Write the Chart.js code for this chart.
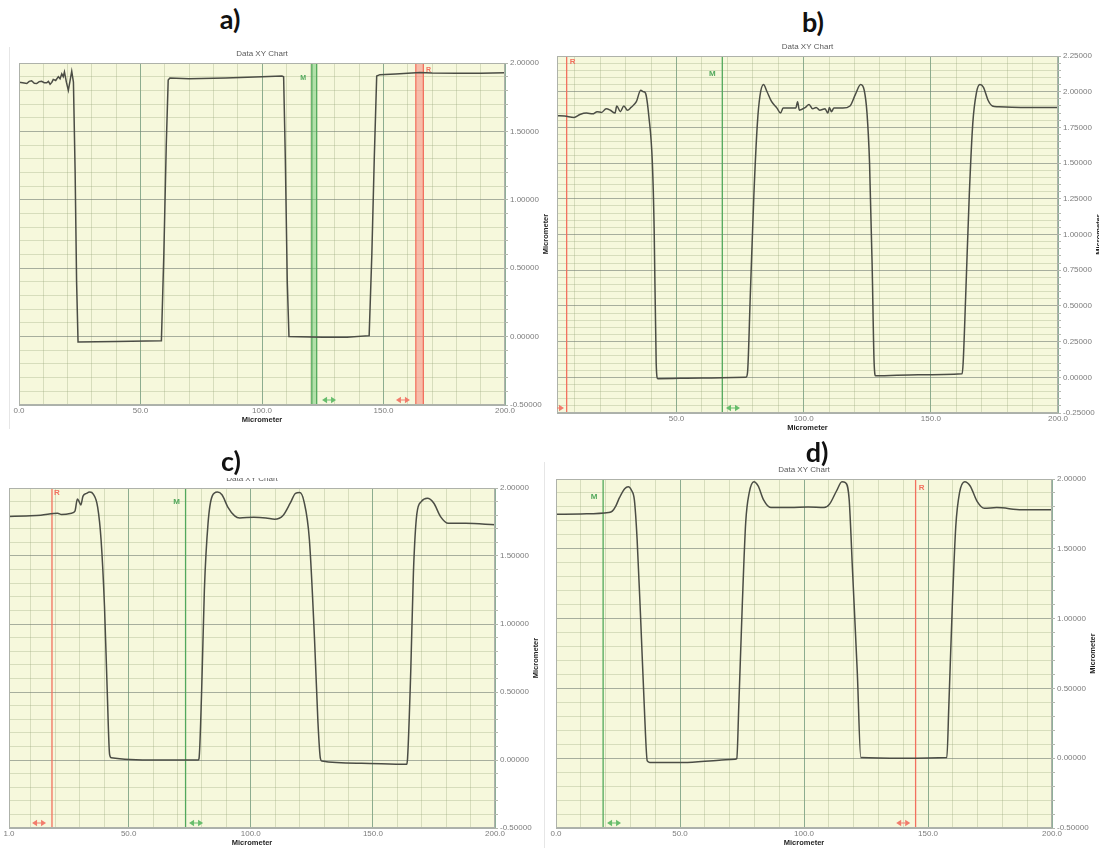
<!DOCTYPE html>
<html>
<head>
<meta charset="utf-8">
<title>Data XY Chart</title>
<script src="https://cdn.jsdelivr.net/npm/chart.js@4.4.1/dist/chart.umd.min.js"></script>
<style>
  html, body { margin: 0; padding: 0; background: #fff; }
  body { width: 1099px; height: 848px; position: relative; overflow: hidden; font-family: "Liberation Sans", Arial, sans-serif; }
  canvas { position: absolute; }
  .tag { position: absolute; font: 700 27px Lato, "Open Sans", sans-serif; color: #111; transform: translate(-50%, -50%); line-height: 1; }
  .edge { position: absolute; width: 1px; background: #e6e6e6; }
</style>
</head>
<body>
<div class="edge" style="left:9px;top:47px;height:382px"></div>
<div class="edge" style="left:544px;top:462px;height:386px"></div>

<canvas id="chartA" width="552" height="388" style="left:0;top:40px"></canvas>
<canvas id="chartB" width="554" height="397" style="left:545px;top:38px"></canvas>
<canvas id="chartC" width="545" height="378" style="left:0;top:470px"></canvas>
<canvas id="chartD" width="554" height="388" style="left:545px;top:460px"></canvas>

<div class="tag" style="left:230px;top:18px">a)</div>
<div class="tag" style="left:813px;top:21px">b)</div>
<div class="tag" style="left:231px;top:460px">c)</div>
<div class="tag" style="left:817px;top:451px">d)</div>

<script>
// labelled x ticks per panel
const aXLabels = [0, 50, 100, 150, 200];
const bXLabels = [50, 100, 150, 200];
const cXLabels = [1, 50, 100, 150, 200];
const dXLabels = [0, 50, 100, 150, 200];

// height profiles, x and height both in micrometer
const aX = [0, 1.5, 3.2, 4.2, 5.2, 6.3, 7.3, 8.3, 9.3, 10.4, 11.4, 12.1, 12.8, 13.5, 14.1, 15.1, 16.2, 16.9, 17.6, 18.2,
  18.7, 19.5, 20.3, 21.0, 21.7, 22.4, 23.1, 23.7, 24.3, 40, 58.6, 59.6, 60.6, 61.4, 62.1, 70, 85, 100, 108.2, 108.9,
  109.6, 110.4, 111.1, 125, 135, 144.1, 145.2, 146.2, 147.2, 148.5, 155, 165, 170, 180, 190, 200];
const aY = [1.86, 1.855, 1.85, 1.866, 1.87, 1.852, 1.85, 1.864, 1.866, 1.856, 1.855, 1.866, 1.845, 1.858, 1.88, 1.872, 1.9, 1.885, 1.92, 1.9,
  1.935, 1.86, 1.80, 1.87, 1.94, 1.86, 1.2, 0.4, -0.04, -0.035, -0.03, 0.6, 1.4, 1.875, 1.89, 1.885, 1.89, 1.9, 1.905, 1.9,
  1.3, 0.4, 0.0, -0.005, -0.005, 0.007, 0.6, 1.3, 1.905, 1.915, 1.92, 1.93, 1.927, 1.925, 1.925, 1.928];

const bX = [3, 6, 9.7, 12, 14.6, 17, 18.8, 20.5, 22.3, 24, 25.8, 26.5, 27.9, 29.3, 30.7, 32.1, 34.2, 35.9, 37, 37.8,
  39.1, 40.5, 41.2, 42, 42.6, 60, 77.3, 77.9, 79, 80.4, 81.8, 82.8, 84.2, 85.6, 87.4, 89.5, 90.9, 91.9, 94.4, 96.9,
  97.6, 98.3, 100.7, 102.1, 103.5, 104.9, 106.3, 108.4, 109.5, 110.1, 110.9, 111.9, 115.4, 118.2, 120.3, 122.4, 123.8, 124.9, 125.9, 126.9,
  127.7, 128.3, 145, 162.3, 162.7, 163.7, 165.1, 166.5, 167.9, 169.3, 170.7, 172.5, 174.2, 176.3, 185.4, 200];
const bY = [1.832, 1.83, 1.82, 1.84, 1.85, 1.845, 1.86, 1.855, 1.88, 1.87, 1.85, 1.90, 1.86, 1.90, 1.87, 1.89, 1.93, 2.01, 2.0, 1.99,
  1.83, 1.50, 1.04, 0.10, -0.01, -0.005, 0.0, 0.03, 0.57, 1.27, 1.78, 1.97, 2.05, 2.0, 1.93, 1.885, 1.85, 1.885, 1.885, 1.885,
  1.93, 1.87, 1.89, 1.91, 1.88, 1.89, 1.87, 1.88, 1.85, 1.89, 1.86, 1.885, 1.885, 1.9, 1.98, 2.05, 2.01, 1.85, 1.5, 0.8,
  0.1, 0.01, 0.018, 0.025, 0.10, 0.57, 1.27, 1.78, 1.99, 2.05, 2.03, 1.94, 1.90, 1.895, 1.89, 1.89];

const cX = [1, 8, 14, 20.9, 22.5, 26.6, 28, 29, 29.7, 30.4, 31.3, 32.7, 34.1, 35.5, 37.3, 38.7, 40.1, 41.2, 42.2, 42.9,
  61.4, 78.5, 78.8, 79.9, 81, 82.5, 84.2, 86.3, 88.2, 90.6, 93.4, 95.5, 101.2, 106.2, 109.8, 113.3, 116.2, 118.3, 120, 121.8,
  124, 126.1, 127.5, 128.5, 129.1, 145.3, 163.8, 164.2, 165.5, 166.6, 168, 169.8, 172.3, 174.9, 177.7, 180.9, 188, 200];
const cY = [1.79, 1.795, 1.80, 1.815, 1.805, 1.815, 1.83, 1.92, 1.90, 1.875, 1.94, 1.96, 1.97, 1.955, 1.86, 1.62, 1.13, 0.52, 0.04, 0.017,
  0.0, 0.0, 0.01, 0.52, 1.25, 1.74, 1.94, 1.97, 1.95, 1.86, 1.795, 1.78, 1.785, 1.78, 1.77, 1.80, 1.89, 1.96, 1.966, 1.90,
  1.62, 0.89, 0.28, 0.012, -0.007, -0.024, -0.032, 0.012, 0.65, 1.38, 1.81, 1.90, 1.925, 1.89, 1.79, 1.74, 1.74, 1.73];

const dX = [0, 10, 21.2, 22.7, 24.1, 25.6, 27.7, 29.1, 30.6, 31.6, 32.7, 34.2, 35.6, 36.8, 37.8, 51.4, 65.8, 72.2, 72.9, 73.7,
  75.1, 76.5, 77.9, 79.8, 81.5, 83.7, 86.6, 94.5, 101.7, 108.1, 110.3, 113.1, 115.3, 116.7, 118.2, 119.6, 121.5, 122.9, 140, 157.6,
  158.4, 159.8, 161.2, 162.7, 164.8, 167, 169.8, 172.7, 177.7, 187.8, 200];
const dY = [1.747, 1.75, 1.76, 1.77, 1.806, 1.866, 1.93, 1.945, 1.914, 1.85, 1.57, 0.97, 0.37, -0.02, -0.03, -0.031, -0.014, -0.007, -0.002, 0.37,
  1.09, 1.69, 1.90, 1.98, 1.95, 1.85, 1.795, 1.795, 1.80, 1.795, 1.82, 1.914, 1.98, 1.974, 1.855, 1.33, 0.61, 0.005, 0.0, 0.005,
  0.375, 1.09, 1.66, 1.90, 1.98, 1.95, 1.84, 1.79, 1.795, 1.78, 1.78];

// measurement cursors (M / R) and their drag handles
const aCursorTag = ["M", "R"];
const aCursorLo = [120.5, 163.3];
const aCursorHi = [122.5, 166.4];
const aHandleX = [127.6, 158];

const bCursorTag = ["R", "M"];
const bCursorX = [6.8, 68];
const bHandleX = [3, 72.2];

const cCursorTag = ["R", "M"];
const cCursorX = [18.6, 73.3];
const cHandleX = [13.3, 77.6];

const dCursorTag = ["M", "R"];
const dCursorX = [19, 145];
const dHandleX = [23.4, 140];

const GREEN = "#52a85c", RED = "#f2715f";
const tagColor = t => t === "M" ? GREEN : RED;
const near = (v, step) => Math.abs(v / step - Math.round(v / step)) < 1e-6;

const panels = [
  { id: "chartA", xs: aX, ys: aY, xMin: 0, xMax: 200, yMin: -0.5, yMax: 2, yStep: 0.1, yMajor: 0.5,
    xLabels: aXLabels, xBounds: true, pad: { left: 19, top: 23 }, xAxisH: 23, yAxisW: 47, smooth: false,
    tags: aCursorTag, lo: aCursorLo, hi: aCursorHi, handles: aHandleX,
    bandWidth: [5, 7], tagFont: "bold 7px 'Liberation Sans'", tagOffset: [[-11, 15], [9, 7]] },
  { id: "chartB", xs: bX, ys: bY, xMin: 3, xMax: 200, yMin: -0.25, yMax: 2.25, yStep: 0.05, yMajor: 0.25,
    xLabels: bXLabels, xBounds: false, pad: { left: 12, top: 18 }, xAxisH: 22, yAxisW: 41, smooth: true,
    tags: bCursorTag, lines: bCursorX, handles: bHandleX, tagOffset: [[6, 6], [-10, 18]] },
  { id: "chartC", xs: cX, ys: cY, xMin: 1, xMax: 200, yMin: -0.5, yMax: 2, yStep: 0.1, yMajor: 0.5,
    xLabels: cXLabels, xBounds: true, pad: { left: 9, top: 18 }, xAxisH: 20, yAxisW: 50, smooth: true,
    tags: cCursorTag, lines: cCursorX, handles: cHandleX, tagOffset: [[5, 5], [-9, 14]], titleClip: 10 },
  { id: "chartD", xs: dX, ys: dY, xMin: 0, xMax: 200, yMin: -0.5, yMax: 2, yStep: 0.1, yMajor: 0.5,
    xLabels: dXLabels, xBounds: true, pad: { left: 11, top: 19 }, xAxisH: 20, yAxisW: 47, smooth: true,
    tags: dCursorTag, lines: dCursorX, handles: dHandleX, tagOffset: [[-9, 18], [6, 9]] }
];

function drawHandle(ctx, x, y, col) {
  ctx.fillStyle = col;
  ctx.beginPath(); ctx.moveTo(x - 7, y); ctx.lineTo(x - 2, y - 3.2); ctx.lineTo(x - 2, y + 3.2); ctx.closePath(); ctx.fill();
  ctx.beginPath(); ctx.moveTo(x + 7, y); ctx.lineTo(x + 2, y - 3.2); ctx.lineTo(x + 2, y + 3.2); ctx.closePath(); ctx.fill();
  ctx.globalAlpha = 0.5;
  ctx.fillRect(x - 2, y - 1, 4, 2);
  ctx.globalAlpha = 1;
}

// plot background, frame, titles, cursor tags and handles
const panelDecor = {
  id: "panelDecor",
  beforeDraw(chart) {
    const { ctx, chartArea: a } = chart;
    ctx.save();
    ctx.fillStyle = "#f6f8dc";
    ctx.fillRect(a.left, a.top, a.right - a.left, a.bottom - a.top);
    ctx.restore();
  },
  afterDraw(chart, args, p) {
    const { ctx, chartArea: a } = chart;
    const xs = chart.scales.x;
    ctx.save();
    ctx.strokeStyle = "#aeb2aa";
    ctx.lineWidth = 1;
    ctx.strokeRect(a.left + 0.5, a.top + 0.5, a.right - a.left - 1, a.bottom - a.top - 1);

    const cx = (a.left + a.right) / 2;
    ctx.fillStyle = "#5a5a5a";
    ctx.font = "8px 'Liberation Sans'";
    ctx.textAlign = "center";
    ctx.textBaseline = "middle";
    ctx.save();
    if (p.titleClip) {
      ctx.beginPath();
      ctx.rect(0, a.top - p.titleClip, chart.width, p.titleClip);
      ctx.clip();
    }
    ctx.fillText("Data XY Chart", cx, a.top - 9);
    ctx.restore();

    ctx.fillStyle = "#1e1e1e";
    ctx.font = "bold 7.5px 'Liberation Sans'";
    ctx.fillText("Micrometer", cx, a.bottom + 15);
    ctx.save();
    ctx.translate(a.right + 41, (a.top + a.bottom) / 2);
    ctx.rotate(-Math.PI / 2);
    ctx.fillText("Micrometer", 0, 0);
    ctx.restore();

    // cursor tags
    ctx.font = p.tagFont || "bold 8px 'Liberation Sans'";
    p.tags.forEach((t, i) => {
      const v = p.lines ? p.lines[i] : (p.lo[i] + p.hi[i]) / 2;
      const px = xs.getPixelForValue(v);
      ctx.fillStyle = tagColor(t);
      ctx.fillText(t, px + p.tagOffset[i][0], a.top + p.tagOffset[i][1]);
    });

    // drag handles along the bottom edge
    ctx.beginPath();
    ctx.rect(a.left, a.top, a.right - a.left, a.bottom - a.top);
    ctx.clip();
    p.tags.forEach((t, i) => {
      drawHandle(ctx, xs.getPixelForValue(p.handles[i]), a.bottom - 5, t === "M" ? "#67bd6c" : "#f27c6c");
    });
    ctx.restore();
  }
};

function buildPanel(p) {
  const datasets = [{
    data: p.xs.map((x, i) => ({ x, y: p.ys[i] })),
    showLine: true, pointRadius: 0, borderColor: "#4b4d45", borderWidth: 1.5,
    cubicInterpolationMode: p.smooth ? "monotone" : "default", tension: 0, order: 0
  }];
  const vline = (x, color, width, order) => ({
    data: [{ x, y: p.yMin }, { x, y: p.yMax }],
    showLine: true, pointRadius: 0, borderColor: color, borderWidth: width, order
  });
  if (p.lines) {
    p.lines.forEach((x, i) => datasets.push(vline(x, tagColor(p.tags[i]), 1.3, 1)));
  } else {
    p.tags.forEach((t, i) => {
      const light = t === "M" ? "rgba(120,205,125,0.55)" : "rgba(247,140,128,0.55)";
      datasets.push(vline((p.lo[i] + p.hi[i]) / 2, light, p.bandWidth[i], 2));
      datasets.push(vline(p.lo[i], tagColor(t), 1.3, 1));
      datasets.push(vline(p.hi[i], tagColor(t), 1.3, 1));
    });
  }

  const tickFont = { size: 8, family: "'Liberation Sans', Arial, sans-serif" };
  new Chart(document.getElementById(p.id), {
    type: "scatter",
    data: { datasets },
    options: {
      responsive: false,
      animation: false,
      events: [],
      layout: { padding: { left: p.pad.left, top: p.pad.top, right: 0, bottom: 0 } },
      plugins: { legend: { display: false }, tooltip: { enabled: false }, panelDecor: p },
      scales: {
        x: {
          type: "linear", min: p.xMin, max: p.xMax,
          afterFit: s => { s.height = p.xAxisH; },
          ticks: {
            stepSize: 10, autoSkip: false, maxRotation: 0, padding: 1, includeBounds: p.xBounds,
            color: "#7c7c7c", font: tickFont,
            callback: v => p.xLabels.some(t => Math.abs(t - v) < 1e-6) ? Number(v).toFixed(1) : ""
          },
          grid: {
            drawTicks: false,
            color: c => near(c.tick.value, 50) ? "rgba(95,140,110,0.7)" : "rgba(150,165,120,0.32)"
          },
          border: { display: false }
        },
        y: {
          type: "linear", position: "right", min: p.yMin, max: p.yMax,
          afterFit: s => { s.width = p.yAxisW; },
          ticks: {
            stepSize: p.yStep, autoSkip: false, padding: 2, color: "#7c7c7c", font: tickFont,
            callback: v => near(v, p.yMajor) ? Number(v).toFixed(5) : ""
          },
          grid: {
            drawTicks: true, tickLength: 3, tickColor: "#b4b8b0",
            color: c => near(c.tick.value, p.yMajor) ? "rgba(115,125,115,0.6)" : "rgba(150,165,120,0.32)"
          },
          border: { display: false }
        }
      }
    },
    plugins: [panelDecor]
  });
}

panels.forEach(buildPanel);
</script>
</body>
</html>
